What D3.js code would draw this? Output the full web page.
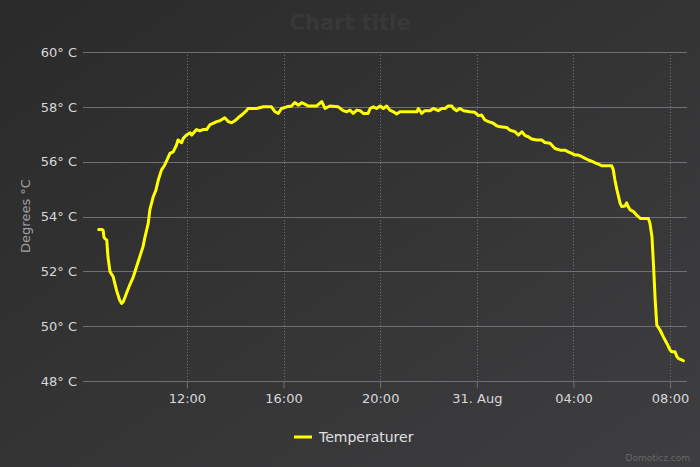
<!DOCTYPE html>
<html><head><meta charset="utf-8">
<script src="https://cdn.jsdelivr.net/npm/d3@7"></script>
<style>html,body{margin:0;padding:0;background:#2a2a2b;}svg{display:block;}</style>
</head><body>
<svg id="chart" width="700" height="467"></svg>
<script>
const chartTitle = "Chart title";
const seriesName = "Temperaturer";
const yAxisTitle = "Degrees °C";
const credits = "Domoticz.com";
const yTicks = [48, 50, 52, 54, 56, 58, 60];
const xTickTimes = ["2015-08-30 12:00","2015-08-30 16:00","2015-08-30 20:00","2015-08-31 00:00","2015-08-31 04:00","2015-08-31 08:00"];
const xTickLabels = ["12:00","16:00","20:00","31. Aug","04:00","08:00"];
const xDomain = ["2015-08-30 07:42","2015-08-31 08:42"];
const yDomain = [48, 60];

const times = [
"2015-08-30 08:21","2015-08-30 08:29","2015-08-30 08:32","2015-08-30 08:34","2015-08-30 08:36","2015-08-30 08:41","2015-08-30 08:44","2015-08-30 08:49","2015-08-30 08:57","2015-08-30 09:05",
"2015-08-30 09:13","2015-08-30 09:18","2015-08-30 09:22","2015-08-30 09:30","2015-08-30 09:38","2015-08-30 09:47","2015-08-30 09:55","2015-08-30 10:03","2015-08-30 10:11","2015-08-30 10:16",
"2015-08-30 10:24","2015-08-30 10:28","2015-08-30 10:36","2015-08-30 10:43","2015-08-30 10:49","2015-08-30 10:57","2015-08-30 11:05","2015-08-30 11:18","2015-08-30 11:26","2015-08-30 11:34",
"2015-08-30 11:38","2015-08-30 11:47","2015-08-30 11:51","2015-08-30 11:59","2015-08-30 12:08","2015-08-30 12:12","2015-08-30 12:24","2015-08-30 12:32","2015-08-30 12:40","2015-08-30 12:49",
"2015-08-30 12:57","2015-08-30 13:05","2015-08-30 13:14","2015-08-30 13:22","2015-08-30 13:34","2015-08-30 13:43","2015-08-30 13:51","2015-08-30 13:59","2015-08-30 14:08","2015-08-30 14:16",
"2015-08-30 14:28","2015-08-30 14:32","2015-08-30 14:53","2015-08-30 15:10","2015-08-30 15:30","2015-08-30 15:39","2015-08-30 15:47","2015-08-30 15:55","2015-08-30 16:08","2015-08-30 16:20",
"2015-08-30 16:28","2015-08-30 16:37","2015-08-30 16:45","2015-08-30 16:53","2015-08-30 17:01","2015-08-30 17:22","2015-08-30 17:35","2015-08-30 17:43","2015-08-30 17:55","2015-08-30 18:16",
"2015-08-30 18:28","2015-08-30 18:37","2015-08-30 18:45","2015-08-30 18:53","2015-08-30 19:02","2015-08-30 19:10","2015-08-30 19:18","2015-08-30 19:30","2015-08-30 19:35","2015-08-30 19:43",
"2015-08-30 19:51","2015-08-30 20:00","2015-08-30 20:08","2015-08-30 20:16","2015-08-30 20:24","2015-08-30 20:33","2015-08-30 20:41","2015-08-30 20:49","2015-08-30 21:31","2015-08-30 21:35",
"2015-08-30 21:43","2015-08-30 21:51","2015-08-30 22:04","2015-08-30 22:12","2015-08-30 22:24","2015-08-30 22:33","2015-08-30 22:41","2015-08-30 22:49","2015-08-30 22:58","2015-08-30 23:02",
"2015-08-30 23:10","2015-08-30 23:18","2015-08-30 23:27","2015-08-30 23:43","2015-08-30 23:55","2015-08-31 00:04","2015-08-31 00:12","2015-08-31 00:20","2015-08-31 00:29","2015-08-31 00:41",
"2015-08-31 00:49","2015-08-31 00:58","2015-08-31 01:14","2015-08-31 01:22","2015-08-31 01:35","2015-08-31 01:43","2015-08-31 01:52","2015-08-31 02:00","2015-08-31 02:08","2015-08-31 02:16",
"2015-08-31 02:29","2015-08-31 02:41","2015-08-31 02:49","2015-08-31 03:02","2015-08-31 03:14","2015-08-31 03:27","2015-08-31 03:39","2015-08-31 03:47","2015-08-31 03:56","2015-08-31 04:04",
"2015-08-31 04:12","2015-08-31 04:21","2015-08-31 04:29","2015-08-31 04:37","2015-08-31 04:45","2015-08-31 04:54","2015-08-31 05:02","2015-08-31 05:10","2015-08-31 05:35","2015-08-31 05:39",
"2015-08-31 05:43","2015-08-31 05:48","2015-08-31 05:56","2015-08-31 06:00","2015-08-31 06:08","2015-08-31 06:12","2015-08-31 06:16","2015-08-31 06:21","2015-08-31 06:29","2015-08-31 06:37",
"2015-08-31 06:46","2015-08-31 07:06","2015-08-31 07:10","2015-08-31 07:15","2015-08-31 07:19","2015-08-31 07:23","2015-08-31 07:27","2015-08-31 07:35","2015-08-31 07:43","2015-08-31 07:52",
"2015-08-31 08:00","2015-08-31 08:04","2015-08-31 08:12","2015-08-31 08:17","2015-08-31 08:21","2015-08-31 08:29","2015-08-31 08:33"
];
const temps = [
53.53,53.53,53.5,53.25,53.2,53.14,52.53,51.99,51.8,51.32,
50.95,50.83,50.89,51.2,51.5,51.8,52.17,52.53,52.9,53.26,
53.75,54.24,54.7,54.96,55.33,55.7,55.88,56.3,56.36,56.6,
56.79,56.69,56.85,56.97,57.05,56.97,57.17,57.12,57.17,57.17,
57.34,57.4,57.46,57.49,57.6,57.46,57.42,57.49,57.61,57.7,
57.86,57.94,57.94,58.0,58.0,57.82,57.76,57.94,58.0,58.03,
58.16,58.06,58.15,58.1,58.03,58.03,58.19,57.94,58.03,58.0,
57.86,57.82,57.88,57.76,57.88,57.86,57.76,57.76,57.94,58.0,
57.94,58.03,57.94,58.03,57.88,57.82,57.74,57.82,57.82,57.94,
57.76,57.86,57.86,57.94,57.86,57.94,57.94,58.03,58.03,57.94,
57.86,57.94,57.86,57.82,57.8,57.68,57.7,57.52,57.46,57.4,
57.31,57.27,57.25,57.15,57.09,56.97,57.09,56.95,56.91,56.83,
56.79,56.79,56.7,56.67,56.48,56.42,56.42,56.36,56.3,56.24,
56.24,56.18,56.12,56.06,56.02,55.96,55.91,55.85,55.85,55.7,
55.33,54.97,54.48,54.36,54.38,54.5,54.36,54.24,54.18,54.05,
53.93,53.93,53.75,53.26,52.17,50.95,50.04,49.86,49.62,49.37,
49.13,49.07,49.07,48.89,48.82,48.77,48.74
];

const parse = d3.timeParse("%Y-%m-%d %H:%M");
const data = times.map((t, i) => ({t: parse(t), v: temps[i]}));

const W = 700, H = 467;
const plot = {left: 83, right: 687, top: 52, bottom: 381};
const font = "'DejaVu Sans', sans-serif";

const svg = d3.select("#chart");
const defs = svg.append("defs");
const grad = defs.append("linearGradient").attr("id", "bg")
  .attr("x1", 0).attr("y1", 0).attr("x2", 1).attr("y2", 1);
grad.append("stop").attr("offset", 0).attr("stop-color", "#2a2a2b");
grad.append("stop").attr("offset", 1).attr("stop-color", "#3e3e40");
svg.append("rect").attr("width", W).attr("height", H).attr("fill", "url(#bg)");

const x = d3.scaleTime().domain(xDomain.map(parse)).range([plot.left, plot.right]);
const y = d3.scaleLinear().domain(yDomain).range([plot.bottom, plot.top]);

// title
svg.append("text").attr("x", 350).attr("y", 30).attr("text-anchor", "middle")
  .attr("font-family", font).attr("font-size", 21).attr("font-weight", "bold")
  .attr("fill", "#38383a").text(chartTitle);

// y axis labels
const yAxis = d3.axisLeft(y).tickValues(yTicks).tickSize(0).tickPadding(6)
  .tickFormat(d => d + "° C");
const gy = svg.append("g").attr("transform", `translate(${plot.left},0)`).call(yAxis);
gy.select(".domain").remove();
gy.selectAll("text").attr("font-family", font).attr("font-size", 13).attr("fill", "#d8d8db");
// horizontal grid
svg.append("g").selectAll("line").data(yTicks.filter(d => d !== 48)).join("line")
  .attr("x1", plot.left).attr("x2", plot.right)
  .attr("y1", d => Math.round(y(d)) + 0.5).attr("y2", d => Math.round(y(d)) + 0.5)
  .attr("stroke", "#707073").attr("stroke-width", 1);

// vertical dotted grid
const xTicks = xTickTimes.map(parse);
svg.append("g").selectAll("line").data(xTicks).join("line")
  .attr("x1", d => Math.round(x(d)) + 0.5).attr("x2", d => Math.round(x(d)) + 0.5)
  .attr("y1", plot.top).attr("y2", plot.bottom)
  .attr("stroke", "#707073").attr("stroke-width", 1).attr("stroke-dasharray", "1,2");

// x axis
const xAxis = d3.axisBottom(x).tickValues(xTicks).tickSize(7).tickPadding(5)
  .tickFormat((d, i) => xTickLabels[i]);
const gx = svg.append("g").attr("transform", `translate(0,${plot.bottom + 0.5})`).call(xAxis);
gx.select(".domain").attr("stroke", "#707073").attr("d", `M${plot.left},0H${plot.right}`);
gx.selectAll(".tick line").attr("stroke", "#707073");
gx.selectAll("text").attr("font-family", font).attr("font-size", 13).attr("fill", "#d8d8db");

// y axis title
svg.append("text").attr("transform", "translate(30,216) rotate(-90)")
  .attr("text-anchor", "middle").attr("font-family", font).attr("font-size", 13)
  .attr("fill", "#a0a0a3").text(yAxisTitle);

// line
const line = d3.line().x(d => x(d.t)).y(d => y(d.v));
svg.append("path").datum(data).attr("d", line).attr("fill", "none")
  .attr("stroke", "#ffff00").attr("stroke-width", 3)
  .attr("stroke-linejoin", "round").attr("stroke-linecap", "round");

// legend
const lg = svg.append("g");
lg.append("line").attr("x1", 294).attr("x2", 312).attr("y1", 437).attr("y2", 437)
  .attr("stroke", "#ffff00").attr("stroke-width", 3);
lg.append("text").attr("x", 319).attr("y", 442).attr("font-family", font)
  .attr("font-size", 14).attr("fill", "#e0e0e3").text(seriesName);

// credits
svg.append("text").attr("x", 690).attr("y", 461).attr("text-anchor", "end")
  .attr("font-family", font).attr("font-size", 9).attr("fill", "#666").text(credits);
</script>
</body></html>
